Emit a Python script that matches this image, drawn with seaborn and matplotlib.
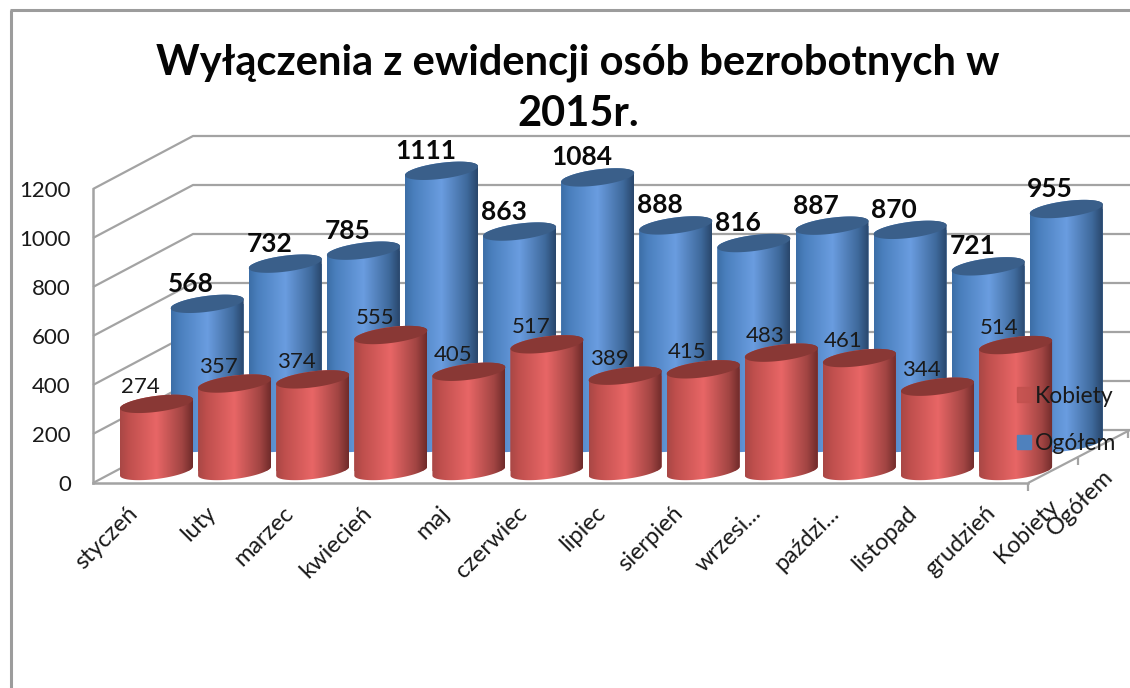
import numpy as np
import pandas as pd
import seaborn as sns
import matplotlib
matplotlib.use("Agg")
import matplotlib.pyplot as plt
from matplotlib.colors import LinearSegmentedColormap
from matplotlib.lines import Line2D
from matplotlib.patches import Patch, Polygon
from matplotlib.transforms import Affine2D

months = ["styczeń", "luty", "marzec", "kwiecień", "maj", "czerwiec", "lipiec",
          "sierpień", "wrzesi...", "paździ...", "listopad", "grudzień"]
ogolem = [568, 732, 785, 1111, 863, 1084, 888, 816, 887, 870, 721, 955]
kobiety = [274, 357, 374, 555, 405, 517, 389, 415, 483, 461, 344, 514]
y_ticks = [0, 200, 400, 600, 800, 1000, 1200]
depth_labels = ["Kobiety", "Ogółem"]
title = "Wyłączenia z ewidencji osób bezrobotnych w\n2015r."

W, H = 1130, 688
sns.set_theme(style="white")
plt.rcParams["font.family"] = ["Lato", "DejaVu Sans"]
fig = plt.figure(figsize=(W / 100, H / 100), dpi=100, facecolor="white")
PX = Affine2D().scale(1 / W, -1 / H).translate(0, 1) + fig.transFigure
GREY = "#a3a3a3"
SY = 0.245      # pixels per unit of value
TXT = "#1a1a1a"


def px_axes(left, right, top, bottom):
    return fig.add_axes([left / W, 1 - bottom / H, (right - left) / W, (bottom - top) / H],
                        facecolor="none")


def frame_line(xs, ys, color=GREY, lw=1.6, z=-2):
    fig.add_artist(Line2D(xs, ys, transform=PX, color=color, lw=lw, zorder=z,
                          solid_capstyle="butt"))


# chart-area border
frame_line([11, 11], [688, 10], "#9c9c9c", 2.2)
frame_line([10, 1130], [10, 10], "#9c9c9c", 2.2)

# 3-D box: side and back walls, floor
for v in y_ticks:
    frame_line([93, 193, 1130], [483 - SY * v, 430 - SY * v, 430 - SY * v])
frame_line([1028, 1130], [483, 430])
frame_line([1028, 1028], [483, 491])
frame_line([1078, 1078], [458, 465])
frame_line([1128, 1128], [431, 438])


def cylinders(axes, values, colors, top_color, label_kw, dy):
    df = pd.DataFrame({"miesiąc": months, "wartość": values})
    sns.barplot(df, x="miesiąc", y="wartość", ax=axes, color=colors[1],
                saturation=1, width=73 / 78.1, errorbar=None)
    sx, a, b, k = 78.1, 36.5, 8.0, 4.5
    cmap = LinearSegmentedColormap.from_list("cyl", list(zip([0, .12, .5, .85, 1], colors)))
    grad = np.linspace(0, 1, 256)[None, :]
    t = np.linspace(0, 2 * np.pi, 120)
    ex, ey = a / sx * np.cos(t), (b * np.sin(t) + k * np.cos(t)) / SY
    up = t <= np.pi
    low = ~up
    for i, (bar, v) in enumerate(zip(list(axes.patches), values)):
        cx = bar.get_x() + bar.get_width() / 2
        verts = np.r_[np.c_[cx + ex[low], ey[low]], np.c_[cx + ex[up], v + ey[up]]]
        clip = Polygon(verts, closed=True, transform=axes.transData)
        bar.set_clip_path(clip)
        bar.set_linewidth(0)
        im = axes.imshow(grad, cmap=cmap, aspect="auto", zorder=3,
                         extent=(cx - a / sx, cx + a / sx, -80, v + 80))
        im.set_clip_path(clip)
        axes.fill(cx + ex, v + ey, color=top_color, lw=0, zorder=4)
        axes.annotate(str(v), (cx, v), xytext=(-16, dy), textcoords="offset pixels",
                      ha="center", va="center", zorder=6, annotation_clip=False, **label_kw)
    axes.set_xlim(-0.5, 11.5)
    axes.set_ylim(-80, 1300)
    axes.axis("off")


def series_axes(center0, base):
    left = center0 - 39.05
    return px_axes(left, left + 78.1 * 12, base - 1300 * SY, base + 80 * SY)


# value/category axes on the front edge of the floor
ax = px_axes(93, 1028, 483 - 1200 * SY, 483)
ax.set_xlim(-0.5, 11.5)
ax.set_ylim(0, 1200)
ax.set_yticks(y_ticks)
ax.set_xticks(range(12), months)
ax.tick_params(axis="y", length=0, pad=16, labelsize=16, labelcolor=TXT)
ax.tick_params(axis="x", length=0, pad=14, labelsize=17, labelcolor=TXT)
plt.setp(ax.get_xticklabels(), rotation=45, ha="right", rotation_mode="anchor")
for lab in ax.get_xticklabels():
    lab.set_transform(lab.get_transform() + Affine2D().translate(-5, 0))
for s in ("top", "right"):
    ax.spines[s].set_visible(False)
for s in ("left", "bottom"):
    ax.spines[s].set_color(GREY)
    ax.spines[s].set_linewidth(1.8)

ax_back = series_axes(207.2, 443)
cylinders(ax_back, ogolem,
          ["#3c6ea6", "#4a7fbd", "#6a9de0", "#3f6a9c", "#29466b"], "#3a5f8a",
          dict(fontsize=19, fontweight="bold", color="#0a0a0a"), 20)

ax_front = series_axes(156.5, 471)
cylinders(ax_front, kobiety,
          ["#a84745", "#bf4f4d", "#e86666", "#a24543", "#6f2b2a"], "#893835",
          dict(fontsize=16, color=TXT), 17)

# depth-axis labels
for lab, (x, y) in zip(depth_labels, [(1048, 495), (1102, 466)]):
    fig.text(x / W, 1 - y / H, lab, rotation=45, ha="right", va="top",
             rotation_mode="anchor", fontsize=17, color=TXT)

fig.text(578 / W, 1 - 88 / H, title, ha="center", va="center", fontsize=30,
         fontweight="bold", color="#050505", linespacing=1.42)

handles = [Patch(color="#c0504d", alpha=.75, label="Kobiety"), Patch(color="#4f81bd", label="Ogółem")]
leg = fig.legend(handles=handles, loc="center left", bbox_to_anchor=(1017 / W, 1 - 420 / H),
                 frameon=False, fontsize=16.5, labelcolor=TXT, handlelength=0.6, handleheight=0.6,
                 handletextpad=0.2, labelspacing=1.15, borderpad=0, borderaxespad=0)
leg.set_zorder(20)

fig.savefig("out.png", dpi=100, facecolor="white")
